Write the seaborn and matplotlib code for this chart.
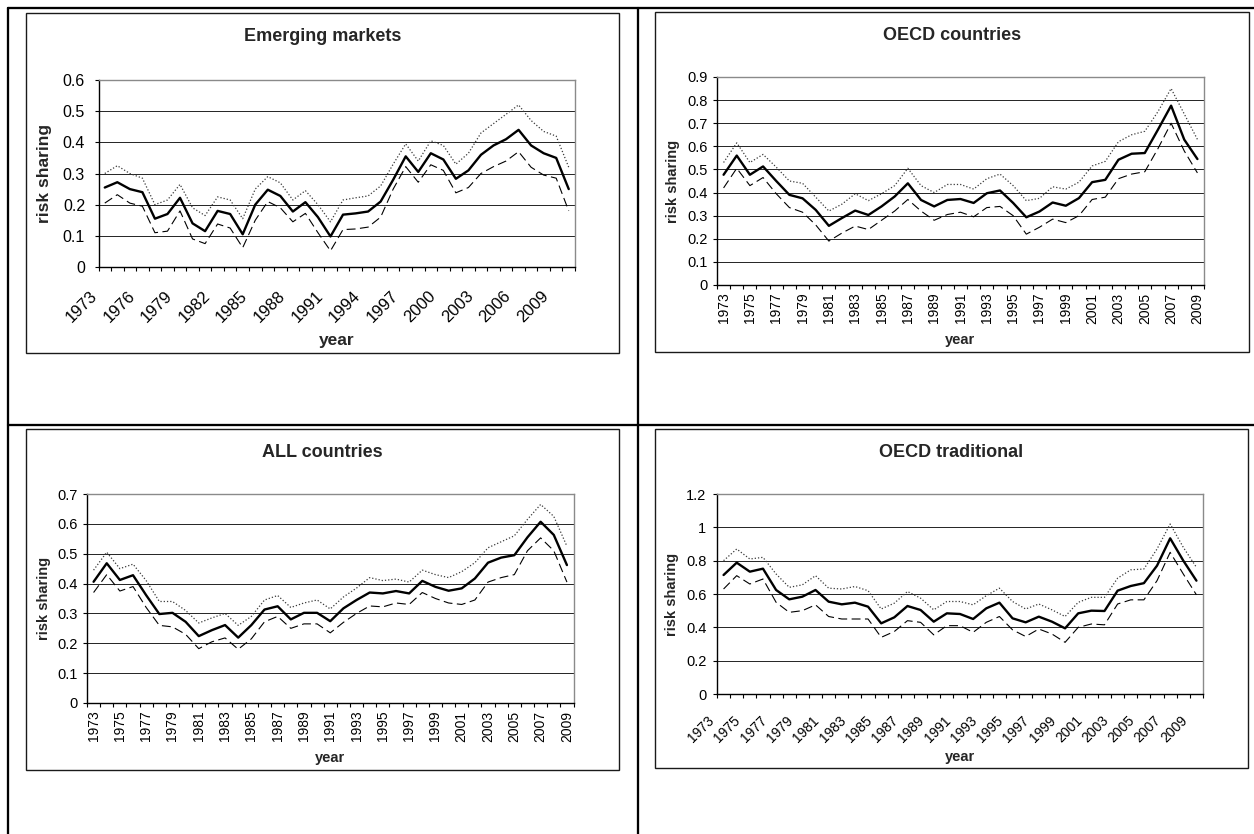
import numpy as np
import pandas as pd
import matplotlib
matplotlib.use("Agg")
import matplotlib.pyplot as plt
import matplotlib.transforms as mtransforms
from matplotlib.lines import Line2D
from matplotlib.patches import Rectangle
from matplotlib.ticker import FixedLocator, FuncFormatter
import seaborn as sns

W, H = 1254, 834

### data
years_em = list(range(1973, 2011))
years = list(range(1973, 2010))

em_mid = [0.255, 0.272, 0.250, 0.240, 0.155, 0.170, 0.222, 0.140, 0.115, 0.180,
          0.170, 0.105, 0.200, 0.248, 0.228, 0.178, 0.208, 0.160, 0.098, 0.168,
          0.172, 0.178, 0.210, 0.280, 0.355, 0.305, 0.365, 0.345, 0.283, 0.310,
          0.360, 0.390, 0.410, 0.440, 0.390, 0.365, 0.350, 0.250]
em_hi = [0.300, 0.325, 0.300, 0.285, 0.200, 0.215, 0.265, 0.190, 0.165, 0.225,
         0.215, 0.155, 0.250, 0.290, 0.270, 0.215, 0.245, 0.200, 0.145, 0.215,
         0.222, 0.228, 0.260, 0.330, 0.395, 0.340, 0.405, 0.390, 0.330, 0.365,
         0.430, 0.460, 0.490, 0.520, 0.470, 0.435, 0.420, 0.320]
em_lo = [0.205, 0.232, 0.205, 0.195, 0.110, 0.115, 0.180, 0.090, 0.075, 0.138,
         0.125, 0.062, 0.150, 0.210, 0.190, 0.145, 0.172, 0.110, 0.052, 0.120,
         0.122, 0.128, 0.160, 0.250, 0.322, 0.272, 0.328, 0.310, 0.238, 0.255,
         0.300, 0.322, 0.340, 0.370, 0.320, 0.295, 0.285, 0.180]

oecd_mid = [0.477, 0.560, 0.477, 0.513, 0.450, 0.390, 0.375, 0.325, 0.256, 0.290,
            0.322, 0.303, 0.340, 0.383, 0.440, 0.368, 0.340, 0.368, 0.372, 0.355,
            0.397, 0.409, 0.355, 0.293, 0.318, 0.357, 0.343, 0.376, 0.445, 0.455,
            0.542, 0.568, 0.571, 0.672, 0.776, 0.629, 0.545]
oecd_hi = [0.53, 0.615, 0.53, 0.565, 0.51, 0.45, 0.44, 0.38, 0.32, 0.35,
           0.395, 0.365, 0.395, 0.43, 0.505, 0.43, 0.40, 0.435, 0.435, 0.415,
           0.46, 0.48, 0.43, 0.365, 0.375, 0.425, 0.415, 0.445, 0.515, 0.535,
           0.62, 0.65, 0.665, 0.75, 0.85, 0.74, 0.63]
oecd_lo = [0.42, 0.505, 0.43, 0.465, 0.395, 0.335, 0.315, 0.26, 0.19, 0.225,
           0.255, 0.24, 0.28, 0.32, 0.37, 0.32, 0.28, 0.305, 0.315, 0.295,
           0.335, 0.34, 0.30, 0.22, 0.25, 0.285, 0.27, 0.30, 0.37, 0.38,
           0.46, 0.48, 0.49, 0.59, 0.70, 0.58, 0.485]

all_mid = [0.406, 0.468, 0.412, 0.428, 0.361, 0.298, 0.302, 0.272, 0.224, 0.244,
           0.261, 0.219, 0.261, 0.313, 0.324, 0.280, 0.302, 0.302, 0.274, 0.317,
           0.345, 0.370, 0.367, 0.375, 0.367, 0.409, 0.389, 0.376, 0.384, 0.417,
           0.470, 0.487, 0.495, 0.555, 0.607, 0.563, 0.462]
all_hi = [0.445, 0.505, 0.45, 0.465, 0.41, 0.34, 0.34, 0.31, 0.268, 0.285,
          0.30, 0.26, 0.29, 0.345, 0.36, 0.32, 0.335, 0.345, 0.315, 0.355,
          0.385, 0.42, 0.41, 0.415, 0.405, 0.445, 0.43, 0.42, 0.44, 0.47,
          0.52, 0.54, 0.56, 0.615, 0.665, 0.625, 0.525]
all_lo = [0.37, 0.43, 0.375, 0.39, 0.32, 0.26, 0.255, 0.23, 0.182, 0.205,
          0.218, 0.18, 0.215, 0.272, 0.29, 0.25, 0.265, 0.265, 0.235, 0.27,
          0.30, 0.325, 0.322, 0.335, 0.33, 0.37, 0.35, 0.335, 0.33, 0.345,
          0.405, 0.42, 0.43, 0.51, 0.553, 0.51, 0.405]

trad_mid = [0.714, 0.788, 0.734, 0.752, 0.624, 0.568, 0.584, 0.624, 0.554, 0.538,
            0.548, 0.524, 0.424, 0.460, 0.528, 0.504, 0.434, 0.484, 0.480, 0.450,
            0.514, 0.548, 0.454, 0.430, 0.464, 0.434, 0.394, 0.484, 0.500, 0.498,
            0.620, 0.648, 0.665, 0.770, 0.934, 0.800, 0.680]
trad_hi = [0.80, 0.87, 0.81, 0.82, 0.72, 0.64, 0.655, 0.71, 0.635, 0.63,
           0.645, 0.62, 0.51, 0.545, 0.615, 0.575, 0.505, 0.555, 0.555, 0.535,
           0.59, 0.635, 0.555, 0.51, 0.54, 0.505, 0.465, 0.55, 0.58, 0.58,
           0.695, 0.745, 0.75, 0.87, 1.02, 0.88, 0.76]
trad_lo = [0.63, 0.71, 0.66, 0.69, 0.55, 0.49, 0.50, 0.535, 0.465, 0.45,
           0.45, 0.45, 0.34, 0.375, 0.44, 0.43, 0.355, 0.41, 0.41, 0.37,
           0.43, 0.465, 0.385, 0.345, 0.39, 0.36, 0.31, 0.40, 0.42, 0.415,
           0.54, 0.565, 0.565, 0.68, 0.85, 0.72, 0.595]

### layout: pixel boxes (x0, y0, x1, y1), y from the top
panels = [
    dict(title="Emerging markets", years=years_em, mid=em_mid, hi=em_hi, lo=em_lo,
         ymax=0.6, ystep=0.1, lab_step=3, rot=45,
         ax_px=(98.5, 80, 575, 267), box_px=(26, 13, 619, 353),
         title_y=36, xlab_y=341, ylab_x=44, ytick_fs=11.5, xtick_fs=12, lab_fs=12.5,
         xpad=19, ypad=6.5, xshift=-10),
    dict(title="OECD countries", years=years, mid=oecd_mid, hi=oecd_hi, lo=oecd_lo,
         ymax=0.9, ystep=0.1, lab_step=2, rot=90,
         ax_px=(717, 77, 1204, 285), box_px=(655, 12, 1249, 352),
         title_y=36, xlab_y=340, ylab_x=673, ytick_fs=10.5, xtick_fs=10, lab_fs=10.5,
         xpad=5.5, ypad=3.5, xshift=0),
    dict(title="ALL countries", years=years, mid=all_mid, hi=all_hi, lo=all_lo,
         ymax=0.7, ystep=0.1, lab_step=2, rot=90,
         ax_px=(87, 494, 573.5, 703), box_px=(26, 429, 619, 770),
         title_y=452.5, xlab_y=758, ylab_x=44, ytick_fs=10.5, xtick_fs=10, lab_fs=10.5,
         xpad=5.5, ypad=3.5, xshift=0),
    dict(title="OECD traditional", years=years, mid=trad_mid, hi=trad_hi, lo=trad_lo,
         ymax=1.2, ystep=0.2, lab_step=2, rot=45,
         ax_px=(717, 494, 1203, 694), box_px=(655, 429, 1248, 768),
         title_y=452.5, xlab_y=757, ylab_x=672, ytick_fs=10.5, xtick_fs=10, lab_fs=10.5,
         xpad=17.7, ypad=4.4, xshift=-11.5),
]


def fig_rect(x0, y0, x1, y1):
    return [x0 / W, 1 - y1 / H, (x1 - x0) / W, (y1 - y0) / H]


sns.set_theme(style="white")
plt.rcParams["font.family"] = ["Liberation Sans", "DejaVu Sans"]

fig = plt.figure(figsize=(W / 100, H / 100), dpi=100)
fig.patch.set_facecolor("white")

# table rules around the four charts
tw = 1.65
for (xa, ya, xb, yb) in [(7.5, 7.5, W, 7.5), (7.5, 7.5, 7.5, H), (638, 7.5, 638, H), (7.5, 425, W, 425)]:
    fig.add_artist(Line2D([xa / W, xb / W], [1 - ya / H, 1 - yb / H], color="black", lw=tw,
                          transform=fig.transFigure))


def draw_panel(p):
    x0, y0, x1, y1 = p["box_px"]
    fig.add_artist(Rectangle((x0 / W, 1 - y1 / H), (x1 - x0) / W, (y1 - y0) / H,
                             transform=fig.transFigure, fill=False, edgecolor="#1a1a1a", lw=1.0))

    ax = fig.add_axes(fig_rect(*p["ax_px"]))
    ax_w = p["ax_px"][2] - p["ax_px"][0]
    ax_h = p["ax_px"][3] - p["ax_px"][1]

    df = pd.DataFrame({"year": p["years"], "mid": p["mid"], "hi": p["hi"], "lo": p["lo"]})
    sns.lineplot(data=df, x="year", y="hi", ax=ax, color="#3a3a3a", lw=0.9, linestyle=(0, (1, 1.6)))
    sns.lineplot(data=df, x="year", y="lo", ax=ax, color="black", lw=0.8, linestyle=(0, (8, 4)))
    sns.lineplot(data=df, x="year", y="mid", ax=ax, color="black", lw=1.7)

    yrs = p["years"]
    ax.set_xlim(yrs[0] - 0.5, yrs[-1] + 0.5)
    ax.set_ylim(0, p["ymax"])

    # y axis
    yt = np.round(np.arange(0, p["ymax"] + 1e-9, p["ystep"]), 2)
    ax.yaxis.set_major_locator(FixedLocator(yt))
    ax.yaxis.set_major_formatter(FuncFormatter(lambda v, pos: f"{v:g}"))
    ax.tick_params(axis="y", which="major", left=True, direction="out", length=3.2, width=0.8,
                   color="black", labelsize=p["ytick_fs"], pad=p["ypad"], labelcolor="black")
    ax.yaxis.grid(True, color="black", lw=0.6)
    ax.set_axisbelow(True)

    # x axis: labels on category centres, tick marks between categories
    lab_years = yrs[::p["lab_step"]]
    ax.xaxis.set_major_locator(FixedLocator(lab_years))
    ax.xaxis.set_major_formatter(FuncFormatter(lambda v, pos: f"{int(round(v))}"))
    ax.xaxis.set_minor_locator(FixedLocator(np.arange(yrs[0] - 0.5, yrs[-1] + 1.0, 1.0)))
    ax.tick_params(axis="x", which="major", bottom=True, length=0, labelsize=p["xtick_fs"],
                   pad=p["xpad"], labelcolor="black")
    ax.tick_params(axis="x", which="minor", bottom=True, direction="out", length=3.2, width=0.8,
                   color="black")
    shift = mtransforms.ScaledTranslation(p["xshift"] / 100, 0, fig.dpi_scale_trans)
    for lab in ax.get_xticklabels():
        if p["rot"] == 45:
            lab.set_rotation(45)
            lab.set_ha("right")
            lab.set_va("center")
            lab.set_rotation_mode("anchor")
            lab.set_transform(lab.get_transform() + shift)
        else:
            lab.set_rotation(90)
            lab.set_ha("center")
            lab.set_va("top")

    for side in ["left", "bottom"]:
        ax.spines[side].set_color("black")
        ax.spines[side].set_linewidth(1.0)
    for side in ["top", "right"]:
        ax.spines[side].set_color("#8a8a8a")
        ax.spines[side].set_linewidth(1.0)

    # labels and title
    ax.set_xlabel("year", fontsize=p["lab_fs"], fontweight="bold", va="center")
    ax.xaxis.set_label_coords(0.5, -(p["xlab_y"] - p["ax_px"][3]) / ax_h)
    ax.set_ylabel("risk sharing", fontsize=p["lab_fs"], fontweight="bold", va="center")
    ax.yaxis.set_label_coords((p["ylab_x"] - p["ax_px"][0]) / ax_w, 0.5)

    cx = (x0 + x1) / 2
    ax.set_title(p["title"], fontsize=13, fontweight="bold", pad=0, va="center",
                 x=(cx - p["ax_px"][0]) / ax_w, y=(p["ax_px"][3] - p["title_y"]) / ax_h)
    return ax


for p in panels:
    draw_panel(p)

fig.savefig("out.png", dpi=100, facecolor="white")
